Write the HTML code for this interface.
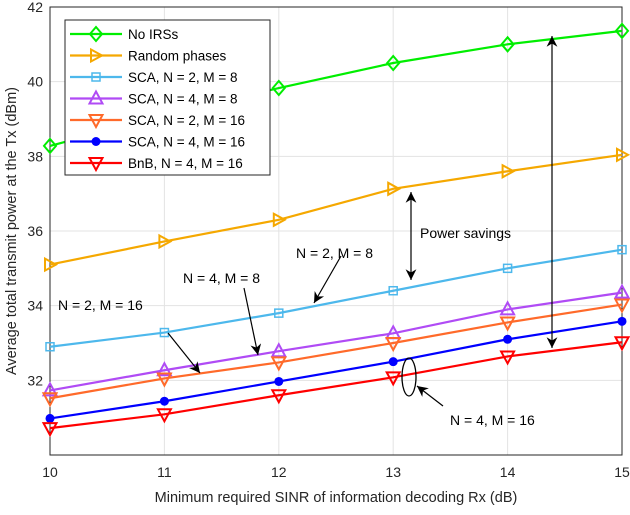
<!DOCTYPE html>
<html><head><meta charset="utf-8"><style>
body{margin:0;background:#fff}
svg text{font-family:"Liberation Sans",sans-serif;fill:#262626}
</style></head><body>
<svg id="c" width="630" height="510" xmlns="http://www.w3.org/2000/svg"></svg>
<script>
const xVals=[10,11,12,13,14,15];
const xTicks=[10,11,12,13,14,15];
const yTicks=[32,34,36,38,40,42];
const sNoIRS=[38.28,39.1,39.83,40.5,41.0,41.36];
const sRandom=[35.1,35.72,36.3,37.13,37.6,38.04];
const sN2M8=[32.9,33.28,33.8,34.4,35.0,35.5];
const sN4M8=[31.73,32.27,32.78,33.26,33.9,34.35];
const sN2M16=[31.52,32.05,32.48,33.0,33.55,34.03];
const sN4M16=[30.98,31.44,31.97,32.5,33.1,33.58];
const sBnB=[30.72,31.09,31.6,32.08,32.64,33.02];
const names=["No IRSs","Random phases","SCA, N = 2, M = 8","SCA, N = 4, M = 8","SCA, N = 2, M = 16","SCA, N = 4, M = 16","BnB, N = 4, M = 16"];
const series=[sNoIRS,sRandom,sN2M8,sN4M8,sN2M16,sN4M16,sBnB];
const colors=["#00ee00","#f5a800","#4db8ec","#b04bf5","#ff6a2a","#0000ff","#ff0000"];
const markers=["diamond","right","square","up","down","dot","down"];
const X0=50,X1=622,Y0=455,Y1=7;
const x=v=>X0+(v-10)/5*(X1-X0);
const y=v=>Y0-(v-30)/12*(Y0-Y1);
const svg=document.getElementById('c');
const NS="http://www.w3.org/2000/svg";
function mk(t,a,p){const e=document.createElementNS(NS,t);for(const k in a)e.setAttribute(k,a[k]);(p||svg).appendChild(e);return e;}
// grid
xTicks.forEach(t=>{const g=mk('line',{x1:x(t),x2:x(t),y1:Y1,y2:Y0,stroke:'#e3e3e3'});


const l=mk('text',{x:x(t),y:477,'text-anchor':'middle','font-size':14});l.textContent=t;

});
yTicks.forEach(t=>{const g=mk('line',{x1:X0,x2:X1,y1:y(t),y2:y(t),stroke:'#e3e3e3'});


const l=mk('text',{x:43,y:y(t)+5,'text-anchor':'end','font-size':14});l.textContent=t;

});
const ax=mk('rect',{x:X0,y:Y1,width:X1-X0,height:Y0-Y1,fill:'none',stroke:'#262626'});


function marker(type,cx,cy,c,p){
 const s=5.5;
 if(type==='diamond')return mk('polygon',{points:`${cx},${cy-7} ${cx+6},${cy} ${cx},${cy+7} ${cx-6},${cy}`,fill:'none',stroke:c,'stroke-width':2},p);
 if(type==='right')return mk('polygon',{points:`${cx-5},${cy-6} ${cx+6},${cy} ${cx-5},${cy+6}`,fill:'none',stroke:c,'stroke-width':2},p);
 if(type==='square')return mk('rect',{x:cx-4,y:cy-4,width:8,height:8,fill:'none',stroke:c,'stroke-width':1.5},p);
 if(type==='up')return mk('polygon',{points:`${cx},${cy-7} ${cx+6.5},${cy+5} ${cx-6.5},${cy+5}`,fill:'none',stroke:c,'stroke-width':2},p);
 if(type==='down')return mk('polygon',{points:`${cx-6.5},${cy-5} ${cx+6.5},${cy-5} ${cx},${cy+7}`,fill:'none',stroke:c,'stroke-width':2},p);
 return mk('circle',{cx:cx,cy:cy,r:4.5,fill:c},p);
}
series.forEach((s,i)=>{
 const g=mk('g',{});
 
 
 mk('polyline',{points:s.map((v,j)=>x(xVals[j])+','+y(v)).join(' '),fill:'none',stroke:colors[i],'stroke-width':2.2},g);
 s.forEach((v,j)=>{const m=marker(markers[i],x(xVals[j]),y(v),colors[i],g);
 
 });
});
// annotations
mk('defs',{}).innerHTML='<marker id="ah" viewBox="0 0 10 10" refX="10" refY="5" markerWidth="9" markerHeight="12" orient="auto-start-reverse"><path d="M0,0 L10,5 L0,10 L3,5z" fill="#000"/></marker>';
function arrow(x1,y1,x2,y2,both){const a={x1,y1,x2,y2,stroke:'#000','stroke-width':1.2,'marker-end':'url(#ah)'};if(both)a['marker-start']='url(#ah)';const l=mk('line',a);}
function txt(s,tx,ty){const t=mk('text',{x:tx,y:ty,'font-size':14,style:'fill:#000'});t.textContent=s;}
arrow(411,192,411,280,true);
arrow(552,36,552,348,true);
txt('Power savings',420,238);
txt('N = 2, M = 8',296,258);
arrow(341,256,314,303);
txt('N = 4, M = 8',183,283);
arrow(244,288,258,355);
txt('N = 2, M = 16',58,310);
arrow(168,333,200,373);
const el=mk('ellipse',{cx:409,cy:377,rx:7,ry:19,fill:'none',stroke:'#000','stroke-width':1.3});


arrow(443,406,417,386);
txt('N = 4, M = 16',450,425);
// legend
const lg=mk('g',{});


mk('rect',{x:65,y:20,width:205,height:155,fill:'#fff',stroke:'#262626'},lg);
names.forEach((n,i)=>{const yy=34+i*21.5;
 const e=mk('g',{},lg);
 
 
 mk('line',{x1:70,x2:122,y1:yy,y2:yy,stroke:colors[i],'stroke-width':2.2},e);
 marker(markers[i],96,yy,colors[i],e);
 const t=mk('text',{x:128,y:yy+5,'font-size':13.5,style:'fill:#000'},e);t.textContent=n;});
const xt=mk('text',{x:336,y:502,'text-anchor':'middle','font-size':14.5});xt.textContent='Minimum required SINR of information decoding Rx (dB)';


const yt=mk('text',{x:0,y:0,'text-anchor':'middle','font-size':14.5,transform:'translate(16,231) rotate(-90)'});yt.textContent='Average total transmit power at the Tx (dBm)';


</script>
</body></html>
